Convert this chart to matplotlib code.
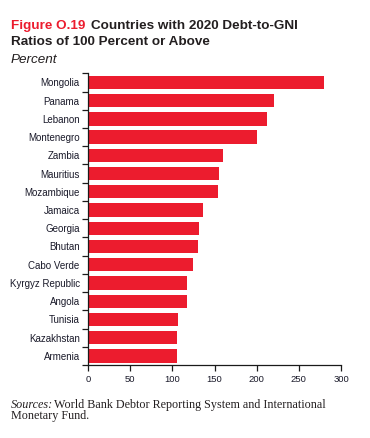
import matplotlib
matplotlib.use("Agg")
import matplotlib.pyplot as plt
import numpy as np

countries = ["Mongolia", "Panama", "Lebanon", "Montenegro", "Zambia", "Mauritius",
             "Mozambique", "Jamaica", "Georgia", "Bhutan", "Cabo Verde",
             "Kyrgyz Republic", "Angola", "Tunisia", "Kazakhstan", "Armenia"]
values = [280, 220, 212, 200, 160, 155, 154, 136, 132, 130, 124, 117, 117, 107, 105, 105]
xticks = [0, 50, 100, 150, 200, 250, 300]

plt.rcParams['font.family'] = ['Liberation Sans', 'DejaVu Sans']

W, H = 370, 438
fig = plt.figure(figsize=(W / 100, H / 100), dpi=100)
ax = fig.add_axes([88 / W, 1 - 365 / H, (341 - 88) / W, (365 - 73.3) / H])

n = len(countries)
ypos = np.arange(n)
ax.barh(ypos, values, height=0.73, color="#EC1C2E", edgecolor="none")
ax.set_ylim(n - 0.5, -0.5)
ax.set_xlim(0, 300)

ax.set_yticks(ypos)
ax.set_yticklabels(countries, fontsize=7, color="#1a1a2a")
ax.set_yticks(np.arange(-0.5, n, 1.0), minor=True)
ax.tick_params(axis="y", which="major", length=0, pad=6)
ax.tick_params(axis="y", which="minor", length=4, width=0.9, direction="out", color="#1a1a1a")

ax.set_xticks(xticks)
ax.set_xticklabels([str(t) for t in xticks], fontsize=6.8, color="#1a1a2a")
ax.tick_params(axis="x", length=4, width=0.9, direction="out", pad=3, color="#1a1a1a")

for s in ["top", "right"]:
    ax.spines[s].set_visible(False)
for s in ["left", "bottom"]:
    ax.spines[s].set_linewidth(0.9)
    ax.spines[s].set_color("#1a1a1a")

# Title
tfs = 9.7
fig.text(11 / W, 1 - 28.7 / H, "Figure O.19", fontsize=tfs, fontweight="bold",
         color="#EC1C2E", va="baseline", ha="left")
fig.text(91 / W, 1 - 28.7 / H, "Countries with 2020 Debt-to-GNI", fontsize=tfs,
         fontweight="bold", color="#231F20", va="baseline", ha="left")
fig.text(11 / W, 1 - 45.3 / H, "Ratios of 100 Percent or Above", fontsize=tfs,
         fontweight="bold", color="#231F20", va="baseline", ha="left")
fig.text(11 / W, 1 - 63 / H, "Percent", fontsize=tfs, style="italic",
         color="#231F20", va="baseline", ha="left")

# Source note
sfs = 8.7
fig.text(11 / W, 1 - 408 / H, "Sources:", fontsize=sfs, style="italic",
         family="Liberation Serif", color="#231F20", va="baseline", ha="left")
fig.text(54 / W, 1 - 408 / H, "World Bank Debtor Reporting System and International",
         fontsize=sfs, family="Liberation Serif", color="#231F20", va="baseline", ha="left")
fig.text(11 / W, 1 - 419.5 / H, "Monetary Fund.", fontsize=sfs, family="Liberation Serif",
         color="#231F20", va="baseline", ha="left")

fig.savefig("out.png", dpi=100)
